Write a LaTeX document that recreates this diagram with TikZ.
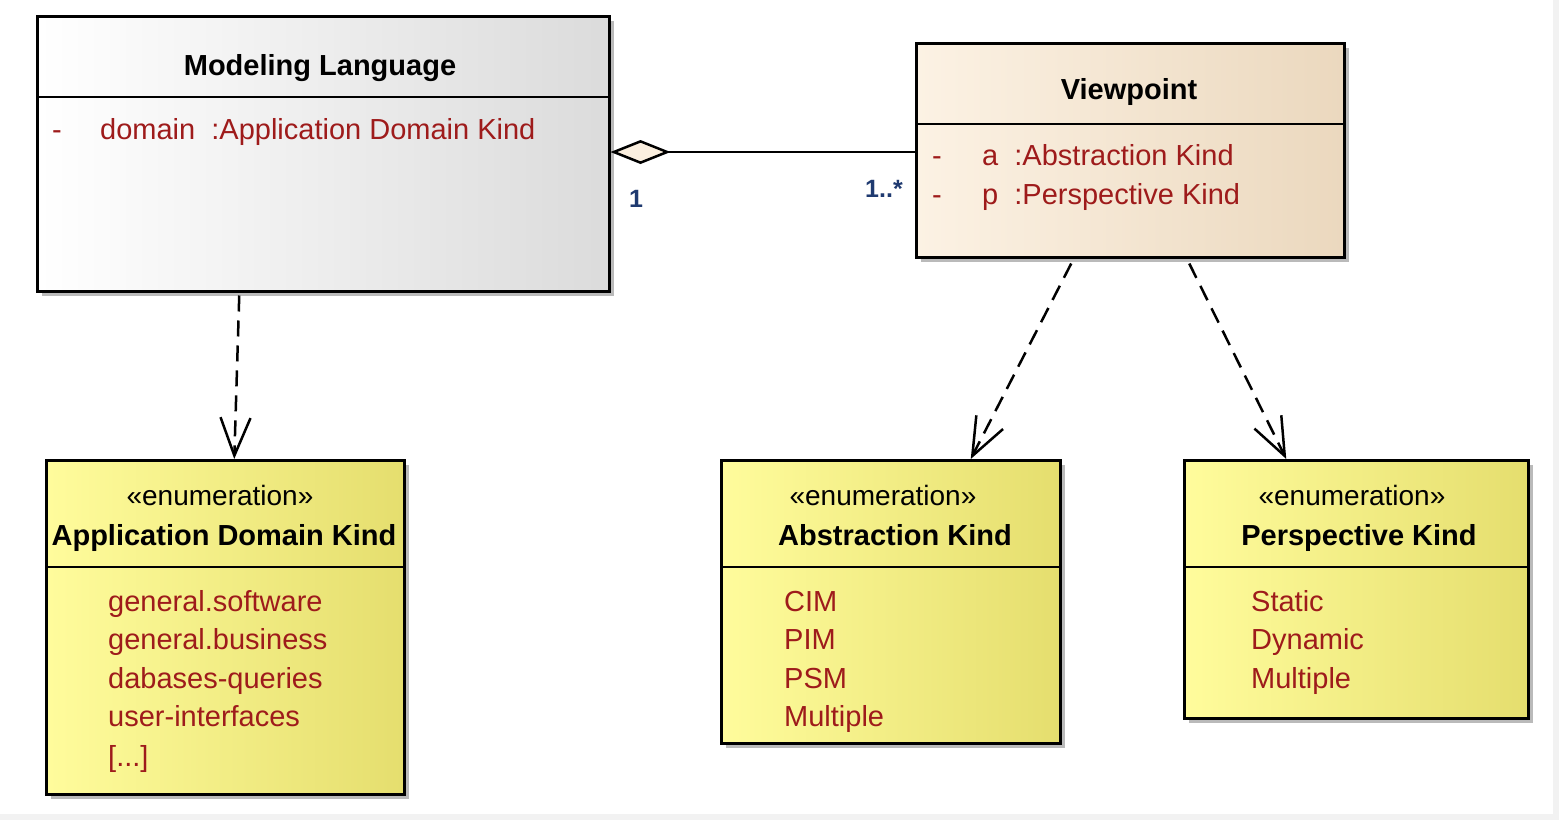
\documentclass[tikz,border=0pt]{standalone}
\usepackage{fontspec}
\setmainfont{Liberation Sans}
\usetikzlibrary{arrows.meta, shadows}

\definecolor{attrred}{HTML}{9E1B1B}
\definecolor{multblue}{HTML}{1F3A70}
\definecolor{vpleft}{HTML}{FCF2E4}
\definecolor{vpright}{HTML}{EBD8BE}
\definecolor{enleft}{HTML}{FFFC9C}
\definecolor{enright}{HTML}{E5DE6E}
\definecolor{diafill}{HTML}{FBEFDF}

\begin{document}
\begin{tikzpicture}[x=1pt, y=-1pt,
  box/.style={draw, line width=2.5pt, anchor=north west, inner sep=0pt,
    drop shadow={shadow xshift=5pt, shadow yshift=-5pt, fill=black!45, opacity=0.6}},
  classbox/.style={box, left color=white, middle color=white, right color=white!86!black},
  vpbox/.style={box, left color=vpleft, right color=vpright},
  enumbox/.style={box, left color=enleft, middle color=enleft!85!enright, right color=enright},
  title/.style={font=\bfseries\fontsize{29}{32}\selectfont, anchor=base, inner sep=0pt},
  stereo/.style={font=\fontsize{28}{32}\selectfont, anchor=base, inner sep=0pt},
  attr/.style={text=attrred, font=\fontsize{29}{32}\selectfont, anchor=base west, inner sep=0pt},
  mult/.style={text=multblue, font=\bfseries\fontsize{25}{28}\selectfont, anchor=base, inner sep=0pt},
  sep/.style={line width=2.5pt},
  dep/.style={line width=2.5pt, dash pattern=on 16pt off 9pt,
    -{Straight Barb[length=38pt, width=30pt, line width=2.5pt]}}]

% background
\fill[black!5] (0,0) rectangle (1559,820);
\fill[white] (0,0) rectangle (1553,814);

% classes
\node[classbox, minimum width=572pt, minimum height=275pt] (ml) at (36,15) {};
\draw[sep] ([yshift=-82pt]ml.north west) -- ([yshift=-82pt]ml.north east);
\node[title] (mlname) at (320,75) {Modeling Language};
\node[attr] (mlvis) at (52,139) {-};
\node[attr] (mlattr) at (100,139) {domain\ \ :Application Domain Kind};

\node[vpbox, minimum width=428pt, minimum height=214pt] (vp) at (915,42) {};
\draw[sep] ([yshift=-82pt]vp.north west) -- ([yshift=-82pt]vp.north east);
\node[title] (vpname) at (1129,99) {Viewpoint};
\node[attr] (vpvisa) at (932,165) {-};
\node[attr] (vpa) at (982,165) {a\ \ :Abstraction Kind};
\node[attr] (vpvisp) at (932,204) {-};
\node[attr] (vpp) at (982,204) {p\ \ :Perspective Kind};

% enumerations
\node[enumbox, minimum width=358pt, minimum height=334pt] (adk) at (45,459) {};
\draw[sep] ([yshift=-108pt]adk.north west) -- ([yshift=-108pt]adk.north east);
\node[stereo] (adkst) at (220,505) {«enumeration»};
\node[title] (adkname) at (224,545) {Application Domain Kind};
\node[attr] (adk1) at (108,611) {general.software};
\node[attr] (adk2) at (108,649) {general.business};
\node[attr] (adk3) at (108,688) {dabases-queries};
\node[attr] (adk4) at (108,726) {user-interfaces};
\node[attr] (adk5) at (108,766) {[...]};

\node[enumbox, minimum width=339pt, minimum height=283pt] (ak) at (720,459) {};
\draw[sep] ([yshift=-108pt]ak.north west) -- ([yshift=-108pt]ak.north east);
\node[stereo] (akst) at (883,505) {«enumeration»};
\node[title] (akname) at (895,545) {Abstraction Kind};
\node[attr] (ak1) at (784,611) {CIM};
\node[attr] (ak2) at (784,649) {PIM};
\node[attr] (ak3) at (784,688) {PSM};
\node[attr] (ak4) at (784,726) {Multiple};

\node[enumbox, minimum width=344pt, minimum height=258pt] (pk) at (1183,459) {};
\draw[sep] ([yshift=-108pt]pk.north west) -- ([yshift=-108pt]pk.north east);
\node[stereo] (pkst) at (1352,505) {«enumeration»};
\node[title] (pkname) at (1359,545) {Perspective Kind};
\node[attr] (pk1) at (1251,611) {Static};
\node[attr] (pk2) at (1251,649) {Dynamic};
\node[attr] (pk3) at (1251,688) {Multiple};

% aggregation
\draw[line width=2.5pt, {Diamond[open, length=60pt, width=24pt, fill=diafill]}-]
  ([yshift=-137pt]ml.north east) -- ([yshift=-110pt]vp.north west);
\node[mult] (mlmult) at (636,207) {1};
\node[mult] (vpmult) at (884,197) {1..*};

% dependencies
\draw[dep] ([xshift=-84pt, yshift=-3pt]ml.south) -- ([xshift=9pt]adk.north);
\draw[dep] ([xshift=-59pt, yshift=-5pt]vp.south) -- ([xshift=80pt]ak.north);
\draw[dep] ([xshift=59pt, yshift=-5pt]vp.south) -- ([xshift=-70pt]pk.north);
\end{tikzpicture}
\end{document}
